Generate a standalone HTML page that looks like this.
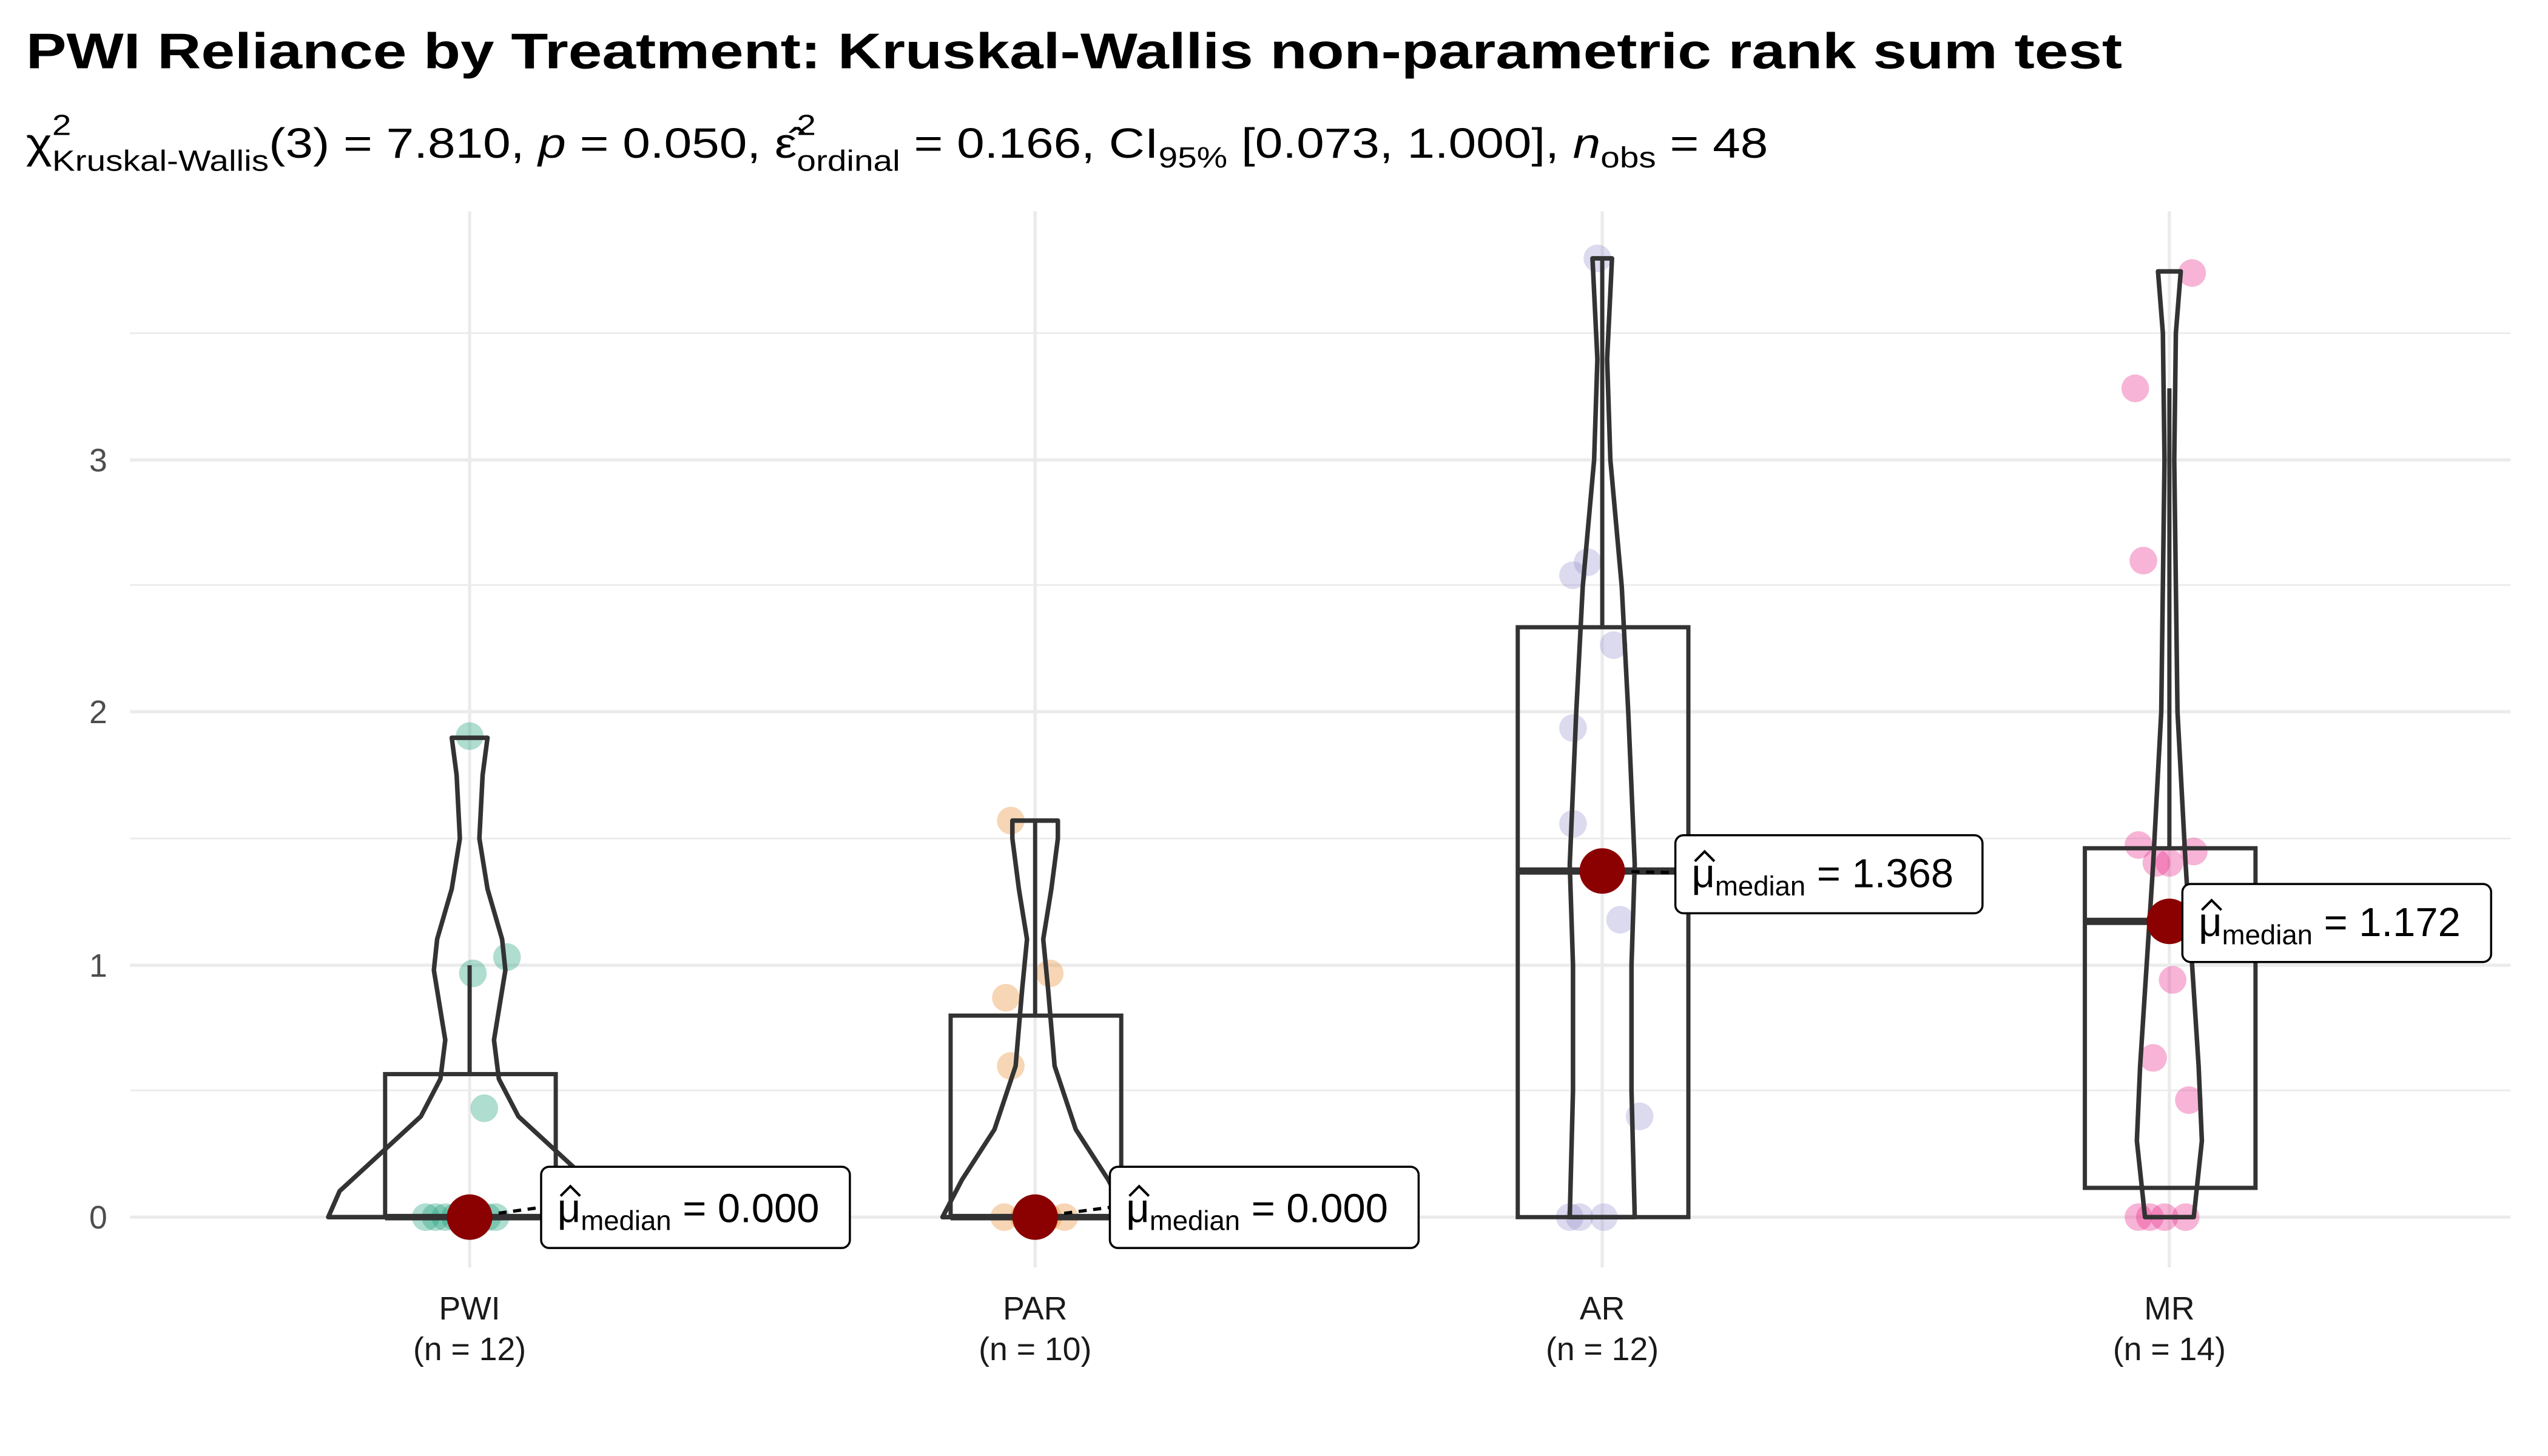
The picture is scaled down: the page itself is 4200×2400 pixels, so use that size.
<!DOCTYPE html>
<html><head><meta charset="utf-8"><style>
html,body{margin:0;padding:0;background:#fff}
svg{display:block}
text{font-family:"Liberation Sans",sans-serif}
</style></head><body>
<svg width="4200" height="2400" viewBox="0 0 1568 896" xmlns="http://www.w3.org/2000/svg">
<rect width="1568" height="896" fill="#fff"/>
<g stroke="#ebebeb" stroke-width="1">
<line x1="80" x2="1545" y1="205" y2="205"/><line x1="80" x2="1545" y1="360" y2="360"/>
<line x1="80" x2="1545" y1="516" y2="516"/><line x1="80" x2="1545" y1="671" y2="671"/>
</g>
<g stroke="#ebebeb" stroke-width="2">
<line x1="80" x2="1545" y1="283" y2="283"/><line x1="80" x2="1545" y1="438" y2="438"/>
<line x1="80" x2="1545" y1="594" y2="594"/><line x1="80" x2="1545" y1="749" y2="749"/>
<line x1="289" x2="289" y1="130" y2="780"/><line x1="637" x2="637" y1="130" y2="780"/>
<line x1="986" x2="986" y1="130" y2="780"/><line x1="1335" x2="1335" y1="130" y2="780"/>
</g>
<g font-size="20" fill="#4d4d4d" text-anchor="end">
<text x="66" y="756">0</text><text x="66" y="601">1</text><text x="66" y="445">2</text><text x="66" y="290">3</text>
</g>
<g font-size="20" fill="#1a1a1a" text-anchor="middle">
<text x="289" y="812">PWI</text><text x="289" y="837">(n = 12)</text>
<text x="637" y="812">PAR</text><text x="637" y="837">(n = 10)</text>
<text x="986" y="812">AR</text><text x="986" y="837">(n = 12)</text>
<text x="1335" y="812">MR</text><text x="1335" y="837">(n = 14)</text>
</g>
<g fill-opacity="0.35" fill="#1b9e77">
<circle cx="289" cy="453" r="8.5"/><circle cx="291" cy="599" r="8.5"/><circle cx="312" cy="589" r="8.5"/><circle cx="298" cy="682" r="8.5"/>
<circle cx="262" cy="749" r="8.5"/><circle cx="268" cy="749" r="8.5"/><circle cx="274" cy="749" r="8.5"/><circle cx="280" cy="749" r="8.5"/><circle cx="300" cy="749" r="8.5"/><circle cx="305" cy="749" r="8.5"/>
</g>
<g fill-opacity="0.35" fill="#e7892e">
<circle cx="622" cy="505" r="8.5"/><circle cx="619" cy="614" r="8.5"/><circle cx="646" cy="599" r="8.5"/><circle cx="622" cy="656" r="8.5"/>
<circle cx="618" cy="749" r="8.5"/><circle cx="630" cy="749" r="8.5"/><circle cx="645" cy="749" r="8.5"/><circle cx="655" cy="749" r="8.5"/>
</g>
<g fill-opacity="0.3" fill="#8c86c6">
<circle cx="983" cy="159" r="8.5"/><circle cx="977" cy="346" r="8.5"/><circle cx="968" cy="354" r="8.5"/><circle cx="993" cy="397" r="8.5"/><circle cx="968" cy="448" r="8.5"/><circle cx="968" cy="507" r="8.5"/><circle cx="997" cy="566" r="8.5"/><circle cx="1009" cy="687" r="8.5"/><circle cx="966" cy="749" r="8.5"/><circle cx="972" cy="749" r="8.5"/><circle cx="987" cy="749" r="8.5"/>
</g>
<g fill-opacity="0.35" fill="#e7298a">
<circle cx="1349" cy="168" r="8.5"/><circle cx="1314" cy="239" r="8.5"/><circle cx="1319" cy="345" r="8.5"/><circle cx="1316" cy="520" r="8.5"/><circle cx="1327" cy="531" r="8.5"/><circle cx="1335" cy="531" r="8.5"/><circle cx="1350" cy="524" r="8.5"/><circle cx="1337" cy="603" r="8.5"/><circle cx="1325" cy="651" r="8.5"/><circle cx="1347" cy="677" r="8.5"/><circle cx="1316" cy="749" r="8.5"/><circle cx="1323" cy="749" r="8.5"/><circle cx="1332" cy="749" r="8.5"/><circle cx="1345" cy="749" r="8.5"/>
</g>
<g fill="none" stroke="#333" stroke-width="2.6">
<rect x="237" y="661" width="105" height="88"/><line x1="289" x2="289" y1="661" y2="594"/>
<line x1="237" x2="342" y1="749" y2="749" stroke-width="4"/>
<rect x="585" y="625" width="105" height="124"/><line x1="637" x2="637" y1="625" y2="505"/>
<line x1="585" x2="690" y1="749" y2="749" stroke-width="4"/>
<rect x="934" y="386" width="105" height="363"/><line x1="986" x2="986" y1="386" y2="159"/>
<line x1="934" x2="1039" y1="536" y2="536" stroke-width="4.5"/>
<rect x="1283" y="522" width="105" height="209"/><line x1="1335" x2="1335" y1="522" y2="239"/>
<line x1="1283" x2="1388" y1="567" y2="567" stroke-width="4.5"/>
</g>
<g fill="none" stroke="#333" stroke-width="2.8" stroke-linejoin="round">
<polygon points="376,749 369,733 344,710 319,687 307,664 304,640 311,597 309,578 300,547 295,516 297,477 300,454 278,454 281,477 283,516 278,547 269,578 267,597 274,640 271,664 259,687 234,710 209,733 202,749"/>
<polygon points="694,749 682,726 662,695 649,656 645,609 642,578 647,547 651,516 651,505 623,505 623,516 627,547 632,578 629,609 625,656 612,695 592,726 580,749"/>
<polygon points="1006,749 1004,671 1004,594 1006,532 1002,438 998,361 991,283 989,221 992,159 980,159 983,221 981,283 974,361 970,438 966,532 968,594 968,671 966,749"/>
<polygon points="1350,749 1355,702 1353,656 1349,594 1345,532 1340,438 1338,283 1339,205 1342,167 1328,167 1331,205 1332,283 1330,438 1325,532 1321,594 1317,656 1315,702 1320,749"/>
</g>
<g stroke="#000" stroke-width="2" stroke-dasharray="5,4">
<line x1="289" y1="749" x2="333" y2="743"/><line x1="637" y1="749" x2="683" y2="743"/>
<line x1="986" y1="536" x2="1031" y2="537"/><line x1="1335" y1="567" x2="1343" y2="567"/>
</g>
<g fill="#8b0000">
<circle cx="289" cy="749" r="14"/><circle cx="637" cy="749" r="14"/>
<circle cx="986" cy="536" r="14"/><circle cx="1335" cy="567" r="14"/>
</g>
<g font-size="25" fill="#000">
<rect x="333" y="718" width="190" height="50" rx="5" fill="#fff" stroke="#000" stroke-width="1.3"/>
<text x="343" y="752">μ<tspan font-size="17" dy="5">median</tspan><tspan dy="-5"> = 0.000</tspan></text>
<path d="M345,736 l6,-6 l6,6" fill="none" stroke="#000" stroke-width="1.5"/>
<rect x="683" y="718" width="190" height="50" rx="5" fill="#fff" stroke="#000" stroke-width="1.3"/>
<text x="693" y="752">μ<tspan font-size="17" dy="5">median</tspan><tspan dy="-5"> = 0.000</tspan></text>
<path d="M695,736 l6,-6 l6,6" fill="none" stroke="#000" stroke-width="1.5"/>
<rect x="1031" y="514" width="189" height="48" rx="5" fill="#fff" stroke="#000" stroke-width="1.3"/>
<text x="1041" y="546">μ<tspan font-size="17" dy="5">median</tspan><tspan dy="-5"> = 1.368</tspan></text>
<path d="M1043,530 l6,-6 l6,6" fill="none" stroke="#000" stroke-width="1.5"/>
<rect x="1343" y="544" width="190" height="48" rx="5" fill="#fff" stroke="#000" stroke-width="1.3"/>
<text x="1353" y="576">μ<tspan font-size="17" dy="5">median</tspan><tspan dy="-5"> = 1.172</tspan></text>
<path d="M1355,560 l6,-6 l6,6" fill="none" stroke="#000" stroke-width="1.5"/>
</g>
<text x="16" y="42" font-size="31" font-weight="bold" fill="#000" textLength="1290" lengthAdjust="spacingAndGlyphs">PWI Reliance by Treatment: Kruskal-Wallis non-parametric rank sum test</text>
<text x="16" y="97" font-size="26" fill="#000" textLength="1072" lengthAdjust="spacingAndGlyphs">χ<tspan font-size="18" dy="-14">2</tspan><tspan font-size="18" dx="-10" dy="22">Kruskal-Wallis</tspan><tspan dy="-8">(3) = 7.810, </tspan><tspan font-style="italic">p</tspan> = 0.050, ε̂<tspan font-size="18" dy="-14">2</tspan><tspan font-size="18" dx="-10" dy="22">ordinal</tspan><tspan dy="-8"> = 0.166, CI</tspan><tspan font-size="18" dy="6">95%</tspan><tspan dy="-6"> [0.073, 1.000], </tspan><tspan font-style="italic">n</tspan><tspan font-size="18" dy="6">obs</tspan><tspan dy="-6"> = 48</tspan></text>
</svg>
</body></html>
